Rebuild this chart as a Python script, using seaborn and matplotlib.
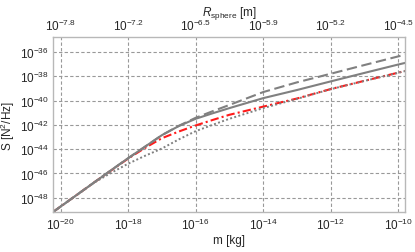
import numpy as np
import pandas as pd
import seaborn as sns
import matplotlib.pyplot as plt
from matplotlib.ticker import FixedLocator, NullLocator

# ===============================
# Data (log10 values)
# ===============================
log_m = [-20.22, -19, -18.5, -18, -17.5, -17, -16.5, -16, -15.5, -15,
         -14, -13, -12, -11, -10, -9.8]

log_s_solid = [-49.17, -46.73, -45.73, -44.75, -43.8, -42.85, -42.1, -41.5,
               -41.05, -40.62, -39.8, -39.13, -38.42, -37.72, -37.03, -36.9]
log_s_dashed = [-49.17, -46.73, -45.73, -44.75, -43.8, -42.85, -42.08, -41.42,
                -40.88, -40.36, -39.3, -38.5, -37.79, -37.07, -36.36, -36.22]
log_s_dashdot = [-49.17, -46.73, -45.75, -44.78, -43.9, -43.1, -42.55, -42.05,
                 -41.6, -41.17, -40.5, -39.83, -39.05, -38.37, -37.7, -37.56]
log_s_dotted = [-49.17, -46.75, -45.95, -45.2, -44.55, -43.95, -43.2, -42.52,
                -42.0, -41.5, -40.62, -39.86, -39.06, -38.38, -37.71, -37.57]

x_tick_exp = [-20, -18, -16, -14, -12, -10]
y_tick_exp = [-48, -46, -44, -42, -40, -38, -36]
r_tick_labels = ['-7.8', '-7.2', '-6.5', '-5.9', '-5.2', '-4.5']

# ===============================
# Style
# ===============================
sns.set_style("white")
plt.rcParams['font.family'] = ['Liberation Sans', 'DejaVu Sans']
plt.rcParams['mathtext.fontset'] = 'custom'
plt.rcParams['mathtext.rm'] = 'Liberation Sans'
plt.rcParams['mathtext.it'] = 'Liberation Sans:italic'
plt.rcParams['mathtext.bf'] = 'Liberation Sans:bold'

fs = 8.5
gray = '#808080'
frame = '#b8b8b8'

fig = plt.figure(figsize=(4.15, 2.53), dpi=100)
ax = fig.add_axes([0.128, 0.157, 0.848, 0.693])

m = 10.0 ** np.array(log_m)
# red first so the gray dots sit on top of it, as in the original
series = [
    (log_s_dashdot, '#ff1a1a', (0, (4, 1.5, 1, 1.5)), 1.5),
    (log_s_solid, gray, '-', 1.5),
    (log_s_dashed, gray, (0, (5, 2.2)), 1.5),
    (log_s_dotted, gray, (0, (1, 1.2)), 1.4),
]
for vals, col, ls, lw in series:
    df = pd.DataFrame({'m': m, 'S': 10.0 ** np.array(vals)})
    sns.lineplot(data=df, x='m', y='S', ax=ax, color=col, linewidth=lw,
                 linestyle=ls, sort=False)

ax.set_xscale('log')
ax.set_yscale('log')
ax.set_xlim(10 ** -20.22, 10 ** -9.8)
ax.set_ylim(10 ** -49.2, 10 ** -34.76)

ax.xaxis.set_major_locator(FixedLocator([10.0 ** e for e in x_tick_exp]))
ax.xaxis.set_minor_locator(NullLocator())
ax.set_xticklabels([f'$10^{{{e}}}$' for e in x_tick_exp])
ax.yaxis.set_major_locator(FixedLocator([10.0 ** e for e in y_tick_exp]))
ax.yaxis.set_minor_locator(NullLocator())
ax.set_yticklabels([f'$10^{{{e}}}$' for e in y_tick_exp])

ax.grid(True, linestyle=(0, (3, 2)), color='#999999', linewidth=0.8)
ax.tick_params(length=0, pad=3, labelsize=fs)
for sp in ax.spines.values():
    sp.set_color(frame)
    sp.set_linewidth(1.0)

ax.set_xlabel('m [kg]', fontsize=fs, labelpad=2)
ax.set_ylabel('S [N$^2$/Hz]', fontsize=fs, labelpad=2)

# top axis: sphere radius
top = ax.twiny()
top.set_xscale('log')
top.set_xlim(ax.get_xlim())
top.xaxis.set_major_locator(FixedLocator([10.0 ** e for e in x_tick_exp]))
top.xaxis.set_minor_locator(NullLocator())
top.set_xticklabels([f'$10^{{{r}}}$' for r in r_tick_labels])
top.tick_params(length=0, pad=3, labelsize=fs)
for sp in top.spines.values():
    sp.set_visible(False)
top.set_xlabel(r'$R_{\mathrm{sphere}}$ [m]', fontsize=fs, labelpad=2)

fig.savefig('out.png', dpi=100)
